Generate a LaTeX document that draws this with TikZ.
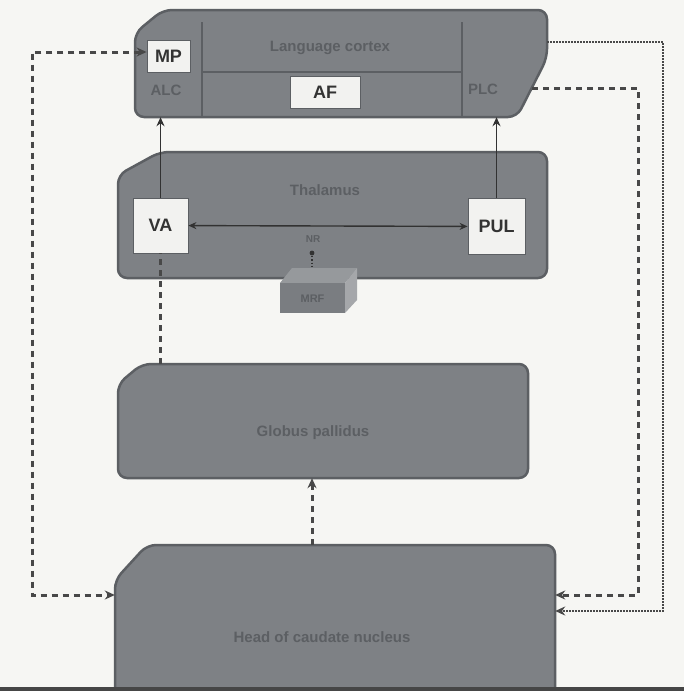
\documentclass[tikz,border=0pt]{standalone}
\usepackage{fontspec}
\setmainfont{Liberation Sans}
\usetikzlibrary{arrows.meta,calc}
\definecolor{boxgray}{RGB}{126,129,133}
\definecolor{boxedge}{RGB}{92,95,99}
\definecolor{boxtext}{RGB}{92,95,99}
\definecolor{linegray}{RGB}{50,50,50}
\definecolor{dashgray}{RGB}{72,72,72}
\definecolor{wfill}{RGB}{242,242,240}
\definecolor{pagebg}{RGB}{246,246,243}
\definecolor{mrftopc}{RGB}{150,153,156}
\definecolor{mrfside}{RGB}{165,167,170}
\definecolor{mrffront}{RGB}{122,125,129}
\definecolor{pageedge}{RGB}{70,70,70}
\begin{document}
\begin{tikzpicture}[x=1pt,y=-1pt,
  graybox/.style={fill=boxgray,draw=boxedge,line width=2.5pt,rounded corners=9pt},
  anchorbox/.style={inner sep=0pt,draw=none},
  wbox/.style={fill=wfill,draw=boxedge,line width=0.8pt,text=black!80,font=\bfseries\fontsize{18}{20}\selectfont,inner sep=0pt},
  gtext/.style={text=boxtext,font=\bfseries\fontsize{15}{17}\selectfont},
  solidarr/.style={draw=linegray,line width=1.6pt,-{Stealth[length=9pt,width=8pt]}},
  dasharr/.style={draw=dashgray,line width=3pt,dash pattern=on 6pt off 5pt},
  dotarr/.style={draw=dashgray,line width=1.6pt,dash pattern=on 1.6pt off 1.4pt},
  tip/.style={-{Stealth[length=10pt,width=9pt]}}
]
\useasboundingbox (0,0) rectangle (684,691);
\fill[pagebg] (0,0) rectangle (684,691);
\clip (0,0) rectangle (684,691);

% ---- box 1: language cortex
\draw[graybox] (163,10) -- (547,10) -- (547,58) -- (517,117) -- (135,117) -- (135,33) -- cycle;
\node[anchorbox,minimum width=412pt,minimum height=107pt] (b1) at (341,63.5) {};
\draw[boxedge,line width=1.5pt] (202,22) -- (202,116) (462,22) -- (462,116) (202,72) -- (462,72);
\node[wbox,minimum width=43pt,minimum height=32pt] (mp) at (168.5,56) {MP};
\node[wbox,minimum width=70pt,minimum height=32pt] (af) at (325,92) {AF};
\node[gtext] (alc) at (166,90) {ALC};
\node[gtext] (plc) at (483,89) {PLC};
\node[gtext] (lc) at (330,48) {Language cortex};

% ---- box 2: thalamus
\draw[graybox] (160,152) -- (547,152) -- (547,278) -- (118,278) -- (118,175) -- cycle;
\node[anchorbox,minimum width=429pt,minimum height=126pt] (b2) at (332.5,215) {};
\node[gtext] (th) at (325,190) {Thalamus};
\node[wbox,minimum width=55pt,minimum height=55pt] (va) at (160.5,225.5) {VA};
\node[wbox,minimum width=57pt,minimum height=56pt] (pul) at (496.5,226.5) {PUL};
\draw[draw=linegray,line width=1.4pt,{Stealth[length=8pt,width=7pt]}-{Stealth[length=8pt,width=7pt]}] (va) -- (pul);
\node[text=boxtext,font=\bfseries\fontsize{10}{12}\selectfont] (nr) at (313,239) {NR};

% small 3D box MRF
\fill[mrftopc] (280,283) -- (292,268) -- (357,268) -- (345,283) -- cycle;
\fill[mrfside] (345,283) -- (357,268) -- (357,300) -- (345,313) -- cycle;
\fill[mrffront] (280,283) rectangle (345,313);
\node[text=boxtext,font=\bfseries\fontsize{11}{12}\selectfont] (mrf) at (312.5,299) {MRF};
\coordinate (mrftop) at (312,268);
\coordinate (nrdot) at (312,253);
\fill[linegray] (nrdot) circle (2.4pt);
\draw[draw=linegray,line width=1.2pt,dotted] (nrdot) -- (mrftop);

% ---- box 3
\draw[graybox] (142,364) -- (528,364) -- (528,478) -- (118,478) -- (118,384) -- cycle;
\node[anchorbox,minimum width=410pt,minimum height=114pt] (b3) at (323,421) {};
\node[gtext] (gp) at (313,433) {Globus pallidus};

% ---- box 4
\draw[graybox] (147,545) -- (555,545) -- (555,720) -- (115,720) -- (115,580) -- cycle;
\node[anchorbox,minimum width=440pt,minimum height=175pt] (b4) at (335,632.5) {};
\node[gtext] (hc) at (322,637) {Head of caudate nucleus};

% page edge at the bottom
\fill[pageedge] (0,687) rectangle (684,691);

% ---- connectors
\draw[solidarr] (va.north) -- (va.north |- b1.south);
\draw[solidarr] (pul.north) -- (pul.north |- b1.south);
\draw[dasharr] (va.south |- b3.north) -- (va.south);
\draw[dasharr,tip] (b4.north -| mrftop) -- (b3.south -| mrftop);

\coordinate (lt) at (32,52);
\coordinate (lb) at (32,595);
\draw[dasharr,{Stealth[length=10pt,width=9pt]}-{Stealth[length=10pt,width=9pt]}] (mp.west |- lt) -- (lt) -- (lb) -- (lb -| b4.west);

\coordinate (plcout) at (532,88);
\coordinate (rt) at (638,88);
\coordinate (rb) at (638,595);
\draw[dasharr,tip] (plcout) -- (rt) -- (rb) -- (rb -| b4.east);

\coordinate (dt) at (663,42);
\coordinate (db) at (663,611);
\draw[dotarr,tip] (b1.east |- dt) -- (dt) -- (db) -- (db -| b4.east);
\end{tikzpicture}
\end{document}
